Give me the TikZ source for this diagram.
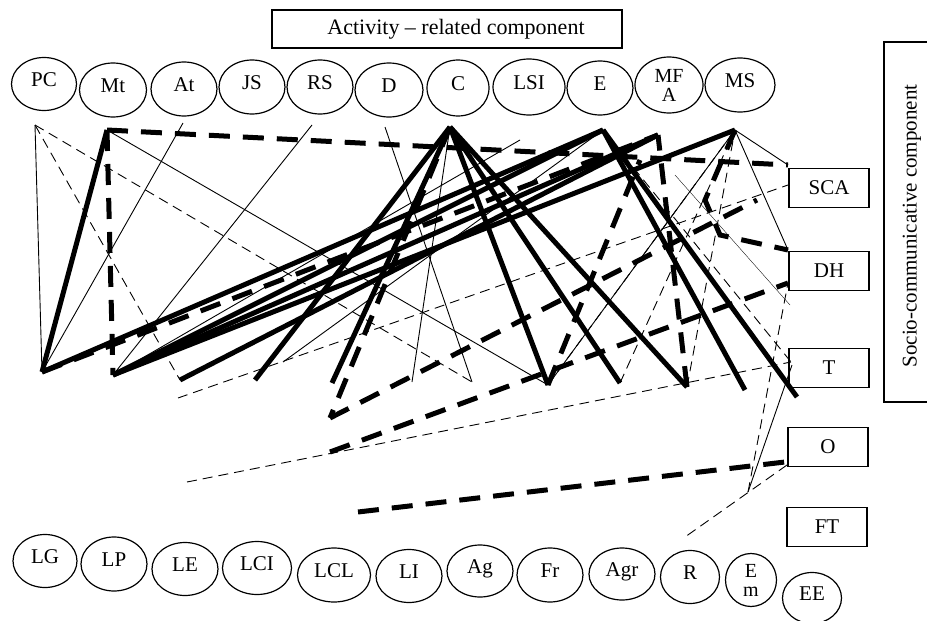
\documentclass[tikz,border=0pt]{standalone}
\usepackage{fontspec}
\setmainfont{Liberation Serif}
\usetikzlibrary{shapes.geometric}
\begin{document}
\begin{tikzpicture}[x=1pt,y=-1pt,
  ell/.style={draw,ellipse,line width=1.2pt,inner sep=0pt,font=\fontsize{21}{21}\selectfont,text depth=9pt,align=center},
  ell2/.style={draw,ellipse,line width=1.2pt,inner sep=0pt,font=\fontsize{20}{19}\selectfont,align=center},
  rbox/.style={draw,rectangle,line width=1.2pt,minimum width=80pt,minimum height=39pt,font=\fontsize{21}{21}\selectfont},
  thn/.style={line width=0.9pt},
  thnd/.style={line width=0.9pt,dash pattern=on 10pt off 6pt},
  thk/.style={line width=5pt},
  thkd/.style={line width=5pt,dash pattern=on 21pt off 13pt},
  hair/.style={line width=0.35pt}]
\useasboundingbox (0,0) rectangle (927,621);
\clip (0,0) rectangle (927,621);
% titles
\node[draw,line width=1.2pt,minimum width=350pt,minimum height=38pt,font=\fontsize{22}{22}\selectfont] (act) at (447,29) {\hspace*{18pt}Activity -- related component};
\node[draw,line width=1.2pt,minimum width=360pt,minimum height=56pt,rotate=90,font=\fontsize{21}{21}\selectfont] (soc) at (912,222) {\hspace*{-8pt}Socio-communicative component};
% top ellipses
\node[ell,minimum width=65pt,minimum height=53pt] (PC) at (44,84) {PC};
\node[ell,minimum width=67pt,minimum height=54pt] (Mt) at (113,90) {Mt};
\node[ell,minimum width=66pt,minimum height=54pt] (At) at (184,89) {At};
\node[ell,minimum width=66pt,minimum height=54pt] (JS) at (252,87) {JS};
\node[ell,minimum width=66pt,minimum height=54pt] (RS) at (320,87) {RS};
\node[ell,minimum width=68pt,minimum height=54pt] (D) at (389,90) {D};
\node[ell,minimum width=62pt,minimum height=56pt] (C) at (458,88) {C};
\node[ell,minimum width=72pt,minimum height=56pt] (LSI) at (529,87) {LSI};
\node[ell,minimum width=66pt,minimum height=54pt] (E) at (600,88) {E};
\node[ell2,minimum width=68pt,minimum height=56pt] (MFA) at (669,85) {MF\\A};
\node[ell,minimum width=70pt,minimum height=54pt] (MS) at (740,85) {MS};
% right boxes
\node[rbox] (SCA) at (829,188) {SCA};
\node[rbox] (DH) at (829,271) {DH};
\node[rbox] (T) at (829,368) {T};
\node[rbox] (O) at (828,447) {O};
\node[rbox] (FT) at (827,527) {FT};
% bottom ellipses
\node[ell,minimum width=64pt,minimum height=53pt] (LG) at (45,561) {LG};
\node[ell,minimum width=66pt,minimum height=54pt] (LP) at (114,564) {LP};
\node[ell,minimum width=66pt,minimum height=53pt] (LE) at (185,569) {LE};
\node[ell,minimum width=69pt,minimum height=53pt] (LCI) at (257,568) {LCI};
\node[ell,minimum width=73pt,minimum height=54pt] (LCL) at (334,575) {LCL};
\node[ell,minimum width=66pt,minimum height=53pt] (LI) at (409,576) {LI};
\node[ell,minimum width=66pt,minimum height=52pt] (Ag) at (480,571) {Ag};
\node[ell,minimum width=66pt,minimum height=54pt] (Fr) at (550,575) {Fr};
\node[ell,minimum width=66pt,minimum height=52pt] (Agr) at (622,574) {Agr};
\node[ell,minimum width=59pt,minimum height=53pt] (R) at (690,577) {R};
\node[ell2,minimum width=51pt,minimum height=53pt] (Em) at (751,580) {E\\m};
\node[ell,minimum width=59pt,minimum height=51pt] (EE) at (812,598) {EE};
% hub points
\coordinate (pct) at (35,125);
\coordinate (mtt) at (107,130);
\coordinate (att) at (183,123);
\coordinate (rst) at (312,125);
\coordinate (dt) at (385,127);
\coordinate (ch) at (450,127);
\coordinate (eh) at (603,130);
\coordinate (mfh) at (658,135);
\coordinate (msh) at (735,130);
\coordinate (lgh) at (42,372);
\coordinate (mtl) at (113,375);
\coordinate (b1) at (180,380);
\coordinate (b2) at (255,380);
\coordinate (b3) at (332,383);
\coordinate (b4) at (412,382);
\coordinate (b5) at (472,382);
\coordinate (frh) at (548,385);
\coordinate (b7) at (620,383);
\coordinate (b8) at (687,387);
\coordinate (b9) at (745,390);
\coordinate (b10) at (797,397);
\coordinate (l1) at (178,398);
\coordinate (l2) at (187,482);
\coordinate (l3) at (330,418);
\coordinate (l4) at (330,452);
\coordinate (l5) at (358,512);
\coordinate (scat) at (788,165);
\coordinate (scal) at (788,185);
\coordinate (scad) at (757,200);
\coordinate (dht) at (788,250);
\coordinate (dhl) at (788,283);
\coordinate (tl) at (791,362);
\coordinate (tb) at (792,365);
\coordinate (ol) at (785,462);
\coordinate (ob) at (787,465);
\coordinate (ojoin) at (748,492);
\coordinate (rlow) at (685,537);
\coordinate (hr1) at (675,175);
\coordinate (hr2) at (790,305);
\coordinate (mid1) at (520,140);
\coordinate (mid2) at (283,362);
\coordinate (vz1) at (705,200);
\coordinate (vz2) at (720,235);
\coordinate (vz3) at (640,160);
% thin solid
\draw[thn] (pct) -- (lgh);
\draw[thn] (att) -- (lgh);
\draw[thn] (rst) -- (mtl);
\draw[thn] (mtt) -- (frh);
\draw[thn] (dt) -- (b5);
\draw[thn] (ch) -- (b4);
\draw[thn] (msh) -- (scat);
\draw[thn] (msh) -- (dht);
\draw[thn] (tb) -- (ojoin);
\draw[thn] (mtl) -- (mid1);
\draw[thn] (mid2) -- (eh);
\draw[thn] (frh) -- (msh);
\draw[hair] (hr1) -- (hr2);
% thin dashed
\draw[thnd] (pct) -- (b1);
\draw[thnd] (pct) -- (b5);
\draw[thnd] (l1) -- (scal);
\draw[thnd] (l2) -- (tl);
\draw[thnd] (ob) -- (rlow);
\draw[thnd] (b1) -- (mfh);
\draw[thnd] (frh) -- (msh);
\draw[thnd] (b8) -- (msh);
\draw[thnd] (b7) -- (msh);
\draw[thnd] (ojoin) -- (dhl);
\draw[thnd] (eh) -- (tl);
% thick solid
\draw[thk] (mtt) -- (lgh);
\draw[thk] (lgh) -- (eh);
\draw[thk] (mtl) -- (mfh);
\draw[thk] (mtl) -- (msh);
\draw[thk] (mtl) -- (eh);
\draw[thk] (b1) -- (mfh);
\draw[thk] (ch) -- (b2);
\draw[thk] (ch) -- (b3);
\draw[thk] (ch) -- (frh);
\draw[thk] (ch) -- (b7);
\draw[thk] (ch) -- (b8);
\draw[thk] (eh) -- (b9);
\draw[thk] (eh) -- (b10);
% thick dashed
\draw[thkd] (mtt) -- (mtl);
\draw[thkd] (mtt) -- (scat);
\draw[thkd] (l3) -- (scad);
\draw[thkd] (l4) -- (dhl);
\draw[thkd] (l5) -- (ol);
\draw[thkd] (b8) -- (mfh);
\draw[thkd] (frh) -- (vz3);
\draw[thkd] (lgh) -- (mfh);
\draw[thkd] (msh) -- (vz1) -- (vz2) -- (dht);
\draw[thkd] (ch) -- (l3);
\end{tikzpicture}
\end{document}
